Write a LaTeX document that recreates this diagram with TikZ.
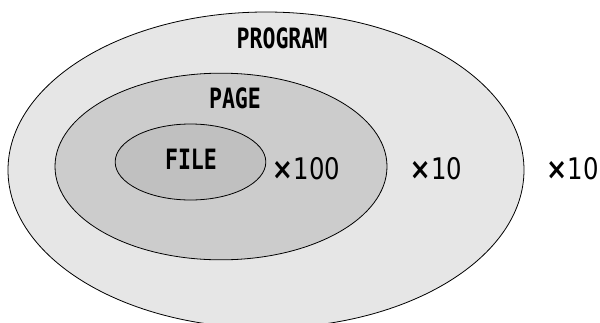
\documentclass[tikz,border=0pt]{standalone}
\usepackage{fontspec}
\newfontfamily\gfont{DejaVu Sans Mono}
\newfontfamily\nfont{DejaVu Sans}
\usetikzlibrary{shapes.geometric}
\newcommand{\gtxt}[1]{\scalebox{0.77}[1]{\fontsize{21}{21}\selectfont\gfont\bfseries #1}}
\newcommand{\ntxt}[1]{\fontsize{22.3}{22.3}\selectfont\nfont\scalebox{0.85}[1]{\bfseries ×}\kern0.5pt\scalebox{0.82}[1]{#1}}
\tikzset{
  ring/.style={ellipse, draw=black, line width=0.6pt, inner sep=0pt},
  lbl/.style={inner sep=0pt, anchor=center, text=black}
}
\begin{document}
\begin{tikzpicture}[x=0.75pt, y=-0.75pt]
\path[clip] (0,0) rectangle (600,322);
\node[ring, fill={rgb,255:red,230;green,230;blue,230}, minimum width=387pt, minimum height=237pt] (program) at (266,170) {};
\node[ring, fill={rgb,255:red,204;green,204;blue,204}, minimum width=249pt, minimum height=140pt] (page) at (221,166.5) {};
\node[ring, fill={rgb,255:red,192;green,192;blue,192}, minimum width=113pt, minimum height=57pt] (file) at (190.5,162) {};
\node[lbl] (tprogram) at (282,38.3) {\gtxt{PROGRAM}};
\node[lbl] (tpage) at (235,98.3) {\gtxt{PAGE}};
\node[lbl] (tfile) at (191,158.8) {\gtxt{FILE}};
\node[lbl] (m100) at (306,169) {\ntxt{100}};
\node[lbl] (m10a) at (436,169) {\ntxt{10}};
\node[lbl] (m10b) at (572.5,169) {\ntxt{10}};
\end{tikzpicture}
\end{document}
